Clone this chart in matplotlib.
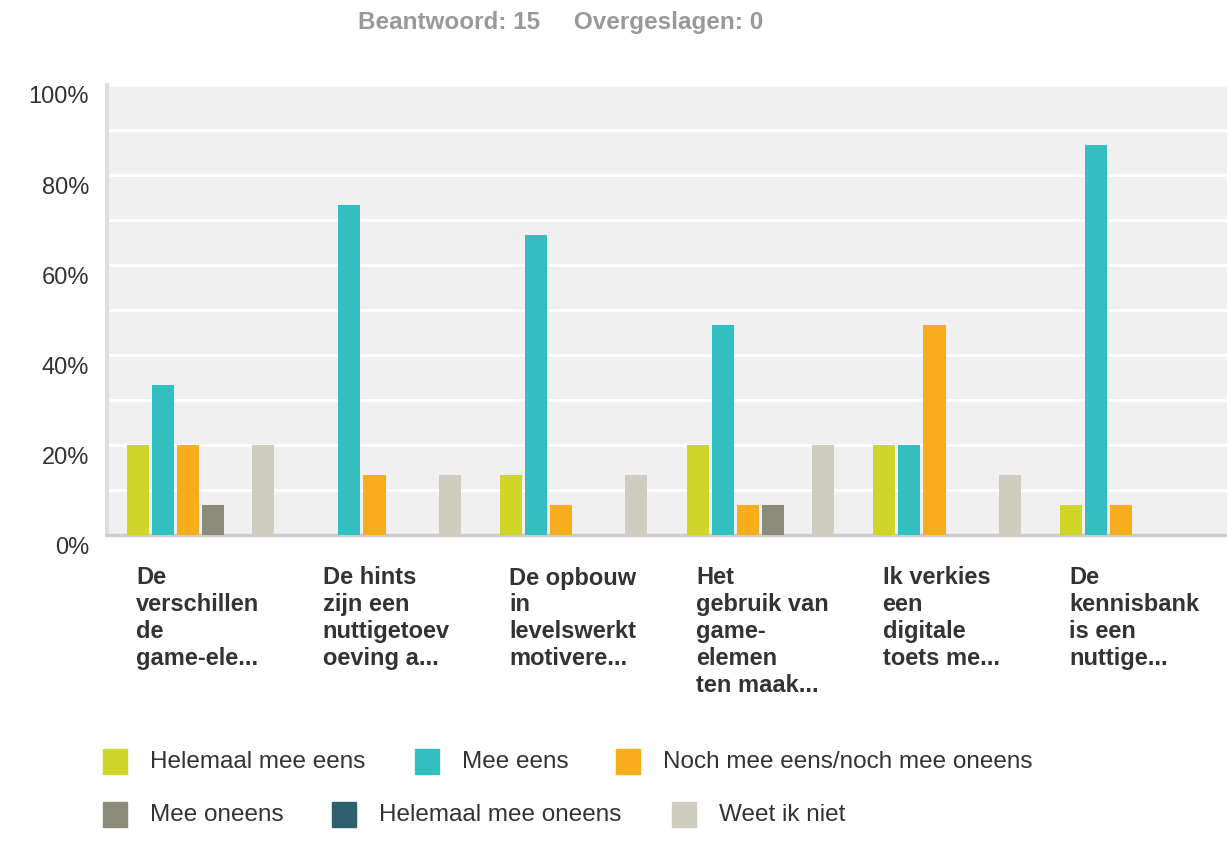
import numpy as np
import matplotlib.pyplot as plt
from matplotlib.patches import Rectangle
from matplotlib.transforms import blended_transform_factory, ScaledTranslation

plt.rcParams['font.family'] = ['Liberation Sans', 'DejaVu Sans']

# answer categories (legend)
series = ['Helemaal mee eens', 'Mee eens', 'Noch mee eens/noch mee oneens',
          'Mee oneens', 'Helemaal mee oneens', 'Weet ik niet']
colors = ['#cfd628', '#33bec0', '#f8ae1c', '#8a8b79', '#2e5f6c', '#cfcdbf']

# questions (x labels, truncated as in the survey tool)
questions = ['De\nverschillen\nde\ngame-ele...',
             'De hints\nzijn een\nnuttigetoev\noeving a...',
             'De opbouw\nin\nlevelswerkt\nmotivere...',
             'Het\ngebruik van\ngame-\nelemen\nten maak...',
             'Ik verkies\neen\ndigitale\ntoets me...',
             'De\nkennisbank\nis een\nnuttige...']

# percentages per question (15 respondents)
helemaal_eens = [20.0, 0.0, 13.33, 20.0, 20.0, 6.67]
mee_eens = [33.33, 73.33, 66.67, 46.67, 20.0, 86.67]
noch = [20.0, 13.33, 6.67, 6.67, 46.67, 6.67]
mee_oneens = [6.67, 0.0, 0.0, 6.67, 0.0, 0.0]
helemaal_oneens = [0.0, 0.0, 0.0, 0.0, 0.0, 0.0]
weet_niet = [20.0, 13.33, 13.33, 20.0, 13.33, 0.0]

values = [helemaal_eens, mee_eens, noch, mee_oneens, helemaal_oneens, weet_niet]

fig = plt.figure(figsize=(12.27, 8.47), dpi=100)
ax = fig.add_axes([107 / 1227, 1 - 535 / 847, 1 - 107 / 1227, 450 / 847])
ax.set_facecolor('#f0f0f0')

x = np.arange(len(questions))
step = 0.134
width = 0.118
for i, (vals, c) in enumerate(zip(values, colors)):
    off = (i - 2.5) * step
    ax.bar(x + off, vals, width=width, color=c, zorder=3)

ax.set_xlim(-0.5, len(questions) - 0.5)
ax.set_ylim(0, 100)
ax.set_yticks(np.arange(0, 101, 10), minor=True)
ax.set_yticks(np.arange(0, 101, 20))
ax.set_yticklabels([f'{v}%' for v in range(0, 101, 20)])
ax.grid(axis='y', which='both', color='white', linewidth=2, zorder=1)
ax.tick_params(axis='y', which='both', length=0, pad=13, labelsize=17,
               labelcolor='#333333')
ax.set_xticks([])
# labels sit a little below their gridline in the original
shift = ScaledTranslation(0, -0.1, fig.dpi_scale_trans)
for lab in ax.get_yticklabels():
    lab.set_transform(lab.get_transform() + shift)

for s in ['top', 'right']:
    ax.spines[s].set_visible(False)
ax.spines['left'].set_color('#dddddd')
ax.spines['left'].set_linewidth(3)
ax.spines['bottom'].set_color('#cccccc')
ax.spines['bottom'].set_linewidth(2.5)

trans = blended_transform_factory(ax.transData, ax.transAxes)
for xi, q in zip(x, questions):
    ax.text(xi - 0.5 + 0.155, -0.07, q, transform=trans, ha='left', va='top',
            fontsize=17, fontweight='bold', color='#333333', linespacing=1.22)

fig.text(561 / 1227, 1 - 23 / 847, 'Beantwoord: 15     Overgeslagen: 0',
         ha='center', va='center', fontsize=17.5, fontweight='bold',
         color='#999999')

# legend laid out in two rows like the survey export
leg_pos = [(103, 762), (415, 762), (616, 762),
           (103, 815), (332, 815), (672, 815)]
for (px, py), name, c in zip(leg_pos, series, colors):
    fig.patches.append(Rectangle((px / 1227, 1 - (py + 12) / 847),
                                 24 / 1227, 25 / 847, color=c,
                                 transform=fig.transFigure))
    fig.text((px + 47) / 1227, 1 - py / 847, name, ha='left', va='center',
             fontsize=17.5, color='#333333')

fig.savefig('out.png', dpi=100)
